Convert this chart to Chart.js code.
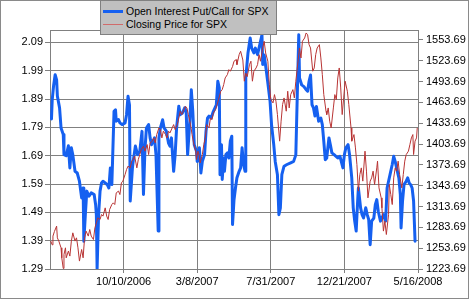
<!DOCTYPE html>
<html><head><meta charset="utf-8">
<script src="https://cdn.jsdelivr.net/npm/chart.js@4/dist/chart.umd.min.js"></script>
<style>
html,body{margin:0;padding:0;background:#fff;}
#wrap{position:relative;width:470px;height:300px;overflow:hidden;}
#c{position:absolute;left:0;top:0;}
#legend{position:absolute;left:100px;top:0;width:175px;height:33px;background:#c0c0c0;border:1px solid #808080;font:10.5px "Liberation Sans",Arial,sans-serif;color:#000;}
.item{position:absolute;left:0;width:175px;height:13px;white-space:nowrap;}
.swatch{position:absolute;left:2px;width:20px;}
.lbl{position:absolute;left:25px;top:0;line-height:13px;}
</style></head>
<body><div id="wrap"><canvas id="c" width="470" height="300"></canvas><div id="legend"></div></div>
<script>
// trading-day index (0 = left edge of the plot, 500 = 5/16/2008)
const putCallDay = [2,3,5,7,9,10,13,15,18,19,22,25,27,29,31,34,37,40,43,45,46,48,50,53,56,60,62,63,64,66,68,70,72,75,78,80,82,84,85,87,89,90,93,95,98,102,104,106,108,109,112,113,116,119,122,124,125,127,129,131,134,136,138,140,142,144,147,148,150,153,155,158,161,163,165,168,170,172,175,177,180,183,185,187,190,192,194,196,199,200,203,205,207,210,212,214,216,219,222,226,228,230,231,233,234,236,237,239,241,243,245,247,248,250,252,254,257,259,261,263,265,266,269,272,274,277,279,282,285,288,289,291,294,296,299,301,304,306,309,311,313,315,318,322,327,331,334,336,338,339,342,345,348,350,352,354,356,358,360,362,365,368,370,372,374,376,379,381,383,386,391,394,398,400,402,405,407,410,412,414,416,418,419,422,424,426,429,431,433,435,437,440,442,444,446,449,451,453,456,458,460,462,465,467,469,472,474,476,477,479,481,484,486,488,490,492,494,496];
const putCallRatio = [1.82,1.887,1.94,1.976,1.958,1.901,1.859,1.788,1.765,1.694,1.69,1.725,1.647,1.718,1.693,1.635,1.629,1.60,1.541,1.576,1.388,1.481,1.565,1.547,1.559,1.553,1.517,1.481,1.29,1.48,1.565,1.594,1.60,1.594,1.587,1.576,1.647,1.588,1.672,1.847,1.852,1.812,1.818,1.806,1.80,1.806,1.835,1.90,1.869,1.53,1.647,1.67,1.724,1.694,1.706,1.753,1.776,1.553,1.71,1.788,1.80,1.753,1.729,1.741,1.753,1.694,1.424,1.753,1.788,1.817,1.788,1.777,1.735,1.724,1.753,1.635,1.693,1.788,1.865,1.835,1.841,1.859,1.847,1.694,1.812,1.923,1.847,1.729,1.706,1.67,1.718,1.629,1.67,1.694,1.777,1.823,1.83,1.823,1.847,1.87,1.953,1.93,1.623,1.729,1.606,1.682,1.635,1.694,1.70,1.682,1.741,1.759,1.447,1.534,1.576,1.612,1.635,1.647,1.718,1.659,1.635,1.965,2.053,2.106,2.07,2.053,2.07,2.047,2.082,2.117,2.012,2.046,1.988,1.947,1.882,1.80,1.729,1.67,1.623,1.482,1.506,1.623,1.653,1.659,1.665,1.67,1.693,1.906,2.117,1.965,1.94,1.934,1.923,1.918,1.953,1.975,1.87,1.859,1.83,1.864,1.812,1.823,1.80,1.741,1.676,1.682,1.753,1.728,1.70,1.694,1.682,1.688,1.647,1.694,1.718,1.729,1.694,1.612,1.506,1.459,1.424,1.53,1.576,1.506,1.482,1.47,1.506,1.482,1.465,1.376,1.459,1.47,1.517,1.535,1.494,1.459,1.47,1.482,1.459,1.576,1.60,1.623,1.659,1.688,1.67,1.635,1.612,1.553,1.435,1.53,1.588,1.60,1.612,1.594,1.588,1.576,1.53,1.388];
const spxDay = [1,3,4,6,9,10,12,15,16,18,19,21,22,25,27,29,31,34,36,38,40,43,45,47,49,52,54,56,59,61,63,65,68,70,72,75,77,79,81,84,86,88,90,93,95,97,99,102,104,106,109,111,113,115,118,120,122,124,127,129,132,134,136,139,141,143,145,148,150,152,154,157,159,161,163,166,168,170,173,175,177,179,182,184,186,188,191,193,195,198,199,201,203,204,207,209,211,213,216,218,220,222,225,227,229,232,234,236,238,241,243,245,248,250,253,254,257,259,262,264,266,268,271,273,275,277,280,282,284,286,289,291,293,296,298,300,303,305,307,309,312,314,316,318,321,323,325,327,330,332,334,337,339,341,343,346,348,350,352,354,357,359,361,363,366,368,370,372,375,376,378,380,382,385,387,389,391,393,395,397,399,401,404,406,409,410,413,415,417,419,421,423,425,428,430,432,435,437,439,441,444,445,447,450,451,453,455,457,460,461,463,465,467,469,471,473,475,478,480,482,484,487,489,491,493,494,496,498,499];
const spxClose = [1263.9,1258.5,1271.1,1277.7,1285.5,1268.6,1263.9,1254.2,1239.8,1224.5,1244.6,1254.2,1239.8,1249.5,1242.3,1263.9,1275.8,1263.9,1268.6,1254.2,1235.1,1251.8,1239.8,1268.6,1278.3,1271.1,1280.6,1271.1,1266.2,1283,1290.2,1297.4,1295,1302.2,1299.9,1311.8,1299.9,1295,1309.4,1316.6,1319,1316.6,1333.4,1335.9,1331,1347.8,1350.3,1359.8,1367,1371.9,1369.4,1379.1,1381.4,1386.3,1369.4,1381.4,1388.6,1395.8,1400.7,1393.5,1403,1388.6,1405.4,1407.9,1412.6,1405.4,1417.4,1427,1424.6,1412.6,1422.3,1417.4,1412.6,1422.3,1419.8,1427,1431.8,1424.6,1431.8,1441.4,1451.1,1446.2,1453.4,1458.3,1455.8,1446.2,1431.8,1417.4,1405.4,1393.5,1381.4,1393.5,1386.3,1376.6,1388.6,1403,1412.6,1431.8,1427,1441.4,1439,1448.6,1453.4,1460.6,1467.8,1479.9,1482.2,1489.4,1499,1503.8,1511,1508.7,1515.3,1523.1,1525.4,1518.2,1532.6,1537.5,1524.9,1494.3,1505.8,1500.9,1518.2,1523.1,1494.3,1508.7,1513.4,1518.2,1532.6,1523.1,1542.2,1551.9,1535,1523.1,1489.4,1467.8,1463,1475,1465.5,1446.2,1407.9,1436.7,1460.6,1470.2,1451.1,1479.9,1455.8,1475,1482.2,1470.2,1494.3,1523.1,1542.2,1527.8,1551.9,1556.6,1563.8,1561.4,1547,1542.2,1508.7,1513.4,1532.6,1542.2,1547,1527.8,1503.8,1475,1451.1,1446.2,1455.8,1436.7,1427,1455.8,1475,1467.8,1499,1513.4,1484.6,1446.2,1470.2,1494.3,1479.9,1460.6,1427,1407.9,1417.4,1398.2,1374.2,1335.9,1359.8,1369.4,1350.3,1393.5,1364.7,1326.2,1350.3,1355,1364.7,1345.4,1369.4,1379.1,1340.6,1326.2,1311.8,1278.3,1292.7,1273.4,1302.2,1345.4,1331,1316.6,1355,1369.4,1364.7,1379.1,1359.8,1340.6,1359.8,1379.1,1388.6,1393.5,1403,1412.6,1417.4,1388.6,1407.9,1412.6,1427];
const xTickDay = [100,200,300,400,500];
const xTickLabels = ["10/10/2006","3/8/2007","7/31/2007","12/21/2007","5/16/2008"];
const leftTicks = [1.29,1.39,1.49,1.59,1.69,1.79,1.89,1.99,2.09];
const rightTicks = [1223.69,1253.69,1283.69,1313.69,1343.69,1373.69,1403.69,1433.69,1463.69,1493.69,1523.69,1553.69];
const seriesNames = ["Open Interest Put/Call for SPX","Closing Price for SPX"];

const FONT = '"Liberation Sans", Arial, sans-serif';
Chart.defaults.font.family = FONT;
Chart.defaults.font.size = 11;
const GRID = '#808080';

const framePlugin = {
  id: 'frame',
  beforeDatasetsDraw(chart) {
    const {ctx, chartArea: a} = chart;
    ctx.save();
    ctx.strokeStyle = GRID; ctx.lineWidth = 1;
    ctx.strokeRect(Math.round(a.left) + 0.5, Math.round(a.top) + 0.5, Math.round(a.right - a.left), Math.round(a.bottom - a.top));
    ctx.restore();
  },
  afterDraw(chart) {
    const ctx = chart.ctx;
    ctx.save();
    ctx.strokeStyle = '#8a8a8a'; ctx.lineWidth = 1;
    ctx.strokeRect(0.5, 0.5, 468, 298);
    ctx.restore();
  }
};

const chart = new Chart(document.getElementById('c'), {
  type: 'line',
  data: { datasets: [
    { label: seriesNames[0], yAxisID: 'y', data: putCallDay.map((d,i)=>({x:d, y:putCallRatio[i]})),
      borderColor: '#1560f0', borderWidth: 3, pointRadius: 0, tension: 0, order: 2,
      borderJoinStyle: 'round', borderCapStyle: 'round' },
    { label: seriesNames[1], yAxisID: 'y2', data: spxDay.map((d,i)=>({x:d, y:spxClose[i]})),
      borderColor: '#b83434', borderWidth: 1, pointRadius: 0, tension: 0, order: 1,
      borderJoinStyle: 'round' }
  ]},
  options: {
    responsive: false, animation: false, devicePixelRatio: 1,
    layout: { padding: { top: 30, left: 0, right: 0, bottom: 0 } },
    plugins: { legend: { display: false }, tooltip: { enabled: false } },
    scales: {
      x: { type: 'linear', min: 0, max: 500,
        afterBuildTicks: s => { s.ticks = xTickDay.map(v => ({value: v})); },
        afterFit: s => { s.height = 31; },
        ticks: { color: '#000', padding: 2, maxRotation: 0, autoSkip: false,
          callback: (v, i) => xTickLabels[i] },
        grid: { color: GRID, tickLength: 4, tickColor: GRID },
        border: { color: GRID } },
      y: { position: 'left', min: 1.29, max: 2.134,
        afterBuildTicks: s => { s.ticks = leftTicks.map(v => ({value: v})); },
        afterFit: s => { s.width = 50; },
        ticks: { color: '#000', padding: 2, callback: v => Number(v).toFixed(2) },
        grid: { color: GRID, tickLength: 5, tickColor: GRID },
        border: { color: GRID } },
      y2: { position: 'right', min: 1223.69, max: 1568.1,
        afterBuildTicks: s => { s.ticks = rightTicks.map(v => ({value: v})); },
        afterFit: s => { s.width = 52; },
        ticks: { color: '#000', padding: 3, callback: v => Number(v).toFixed(2) },
        grid: { drawOnChartArea: false, tickLength: 5, tickColor: GRID },
        border: { color: GRID } }
    }
  },
  plugins: [framePlugin]
});

// HTML legend built from the datasets
const leg = document.getElementById('legend');
chart.data.datasets.forEach((ds, i) => {
  const item = document.createElement('div');
  item.className = 'item';
  item.style.top = (i === 0 ? 4 : 17) + 'px';
  const sw = document.createElement('div');
  sw.className = 'swatch';
  sw.style.background = i === 0 ? ds.borderColor : '#d06a6a';
  sw.style.height = ds.borderWidth + 'px';
  sw.style.top = (6.5 - ds.borderWidth / 2) + 'px';
  const lb = document.createElement('span');
  lb.className = 'lbl';
  lb.textContent = ds.label;
  item.appendChild(sw); item.appendChild(lb);
  leg.appendChild(item);
});
</script>
</body></html>
